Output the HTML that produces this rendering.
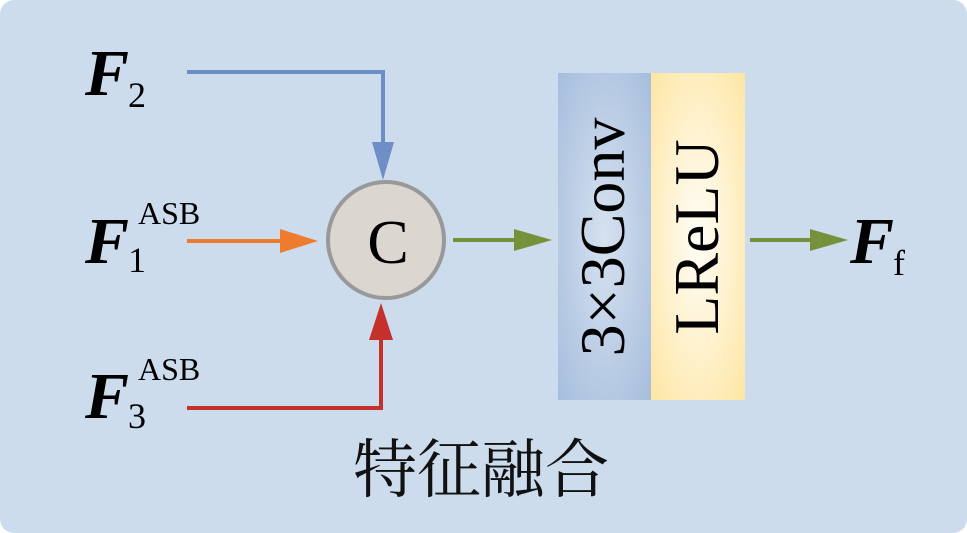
<!DOCTYPE html>
<html><head><meta charset="utf-8"><style>
html,body{margin:0;padding:0;background:#fff;}
svg{display:block;}
</style></head><body>
<svg width="967" height="533" viewBox="0 0 967 533" xmlns="http://www.w3.org/2000/svg">
<defs>
<radialGradient id="gb" cx="0.5" cy="0.5" r="0.7">
<stop offset="0" stop-color="#d6e1f0"/><stop offset="1" stop-color="#a6bedd"/>
</radialGradient>
<radialGradient id="gy" cx="0.5" cy="0.5" r="0.7">
<stop offset="0" stop-color="#fffdf7"/><stop offset="1" stop-color="#fde6a4"/>
</radialGradient>
</defs>
<rect x="0" y="0" width="967" height="533" rx="14" fill="#ccdced"/>
<g font-family="Liberation Serif, serif">
<text x="85" y="95" font-size="66" font-weight="bold" font-style="italic">F</text>
<text x="128" y="107" font-size="36">2</text>
<text x="85" y="263" font-size="66" font-weight="bold" font-style="italic">F</text>
<text x="128" y="272" font-size="36">1</text>
<text x="138" y="224" font-size="32">ASB</text>
<text x="85" y="418" font-size="66" font-weight="bold" font-style="italic">F</text>
<text x="128" y="428" font-size="36">3</text>
<text x="138" y="380" font-size="32">ASB</text>
<text x="850" y="263" font-size="66" font-weight="bold" font-style="italic">F</text>
<text x="893" y="275" font-size="36">f</text>
</g>
<polyline points="187,72 383,72 383,148" fill="none" stroke="#6e8ec7" stroke-width="4"/>
<polygon points="372,142 394,142 383,180" fill="#6e8ec7"/>
<line x1="187" y1="241" x2="290" y2="241" stroke="#ee7b2e" stroke-width="4"/>
<polygon points="280,229 280,253 318,241" fill="#ee7b2e"/>
<polyline points="187,408 381,408 381,335" fill="none" stroke="#c4302b" stroke-width="4"/>
<polygon points="369,340 393,340 381,303" fill="#c4302b"/>
<circle cx="386" cy="240" r="58" fill="#dcd6d1" stroke="#999" stroke-width="4"/>
<text x="388" y="263" font-family="Liberation Serif, serif" font-size="62" text-anchor="middle">C</text>
<line x1="453" y1="240" x2="520" y2="240" stroke="#77913a" stroke-width="4"/>
<polygon points="514,229 514,251 552,240" fill="#77913a"/>
<line x1="750" y1="240" x2="815" y2="240" stroke="#77913a" stroke-width="4"/>
<polygon points="810,229 810,251 848,240" fill="#77913a"/>
<rect x="558" y="73" width="93" height="327" fill="url(#gb)"/>
<rect x="651" y="73" width="94" height="327" fill="url(#gy)"/>
<text transform="translate(624,237) rotate(-90)" font-family="Liberation Serif, serif" font-size="64" text-anchor="middle">3×3Conv</text>
<text transform="translate(718,237) rotate(-90)" font-family="Liberation Serif, serif" font-size="64" text-anchor="middle">LReLU</text>
<text x="481" y="492" font-family="Noto Serif CJK SC, serif" font-size="64" text-anchor="middle" fill="#111">特征融合</text>
</svg>
</body></html>
